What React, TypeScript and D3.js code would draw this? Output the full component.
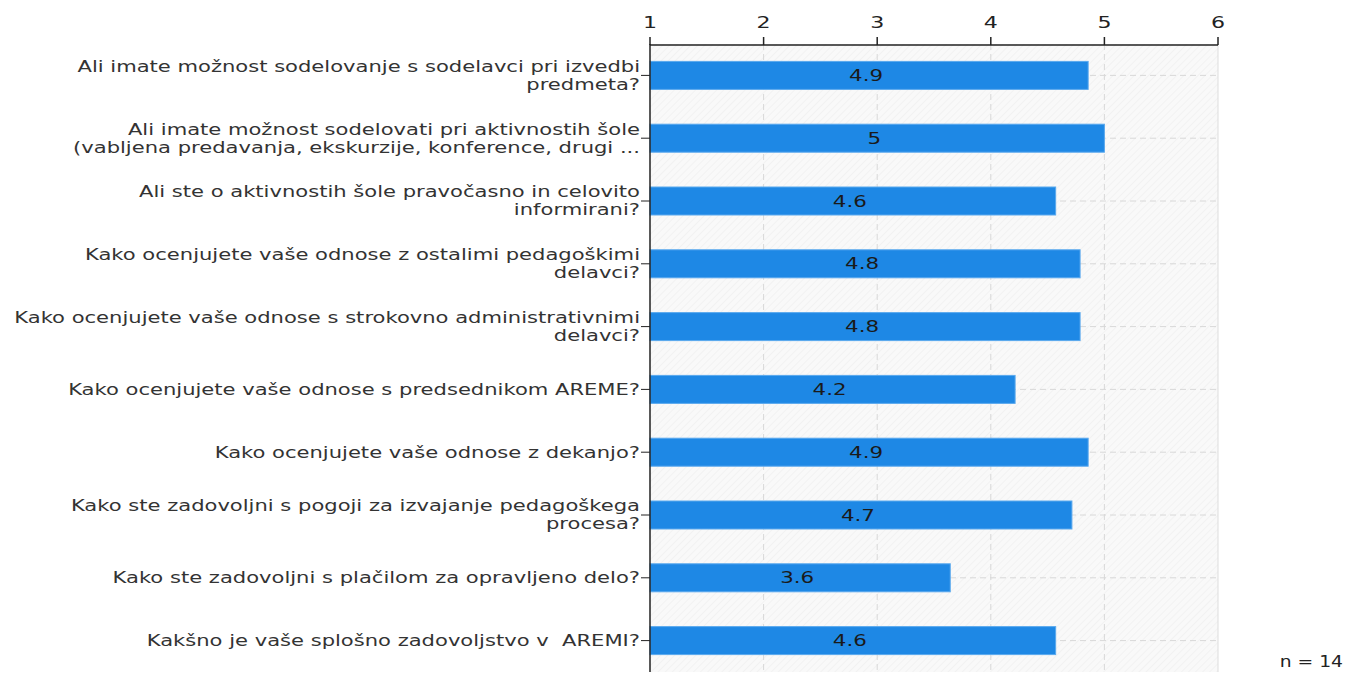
import React, { useEffect, useRef } from "react";
import * as d3 from "d3";

const questions = [
  "Ali imate možnost sodelovanje s sodelavci pri izvedbi\npredmeta?",
  "Ali imate možnost sodelovati pri aktivnostih šole\n(vabljena predavanja, ekskurzije, konference, drugi ...",
  "Ali ste o aktivnostih šole pravočasno in celovito\ninformirani?",
  "Kako ocenjujete vaše odnose z ostalimi pedagoškimi\ndelavci?",
  "Kako ocenjujete vaše odnose s strokovno administrativnimi\ndelavci?",
  "Kako ocenjujete vaše odnose s predsednikom AREME?",
  "Kako ocenjujete vaše odnose z dekanjo?",
  "Kako ste zadovoljni s pogoji za izvajanje pedagoškega\nprocesa?",
  "Kako ste zadovoljni s plačilom za opravljeno delo?",
  "Kakšno je vaše splošno zadovoljstvo v  AREMI?",
];

const averages = [4.857, 5.0, 4.571, 4.786, 4.786, 4.214, 4.857, 4.714, 3.643, 4.571];
const xTicks = [1, 2, 3, 4, 5, 6];
const sampleSize = 14;

const W = 1350;
const H = 673;
const margin = { left: 650, right: 132, top: 44, bottom: 1 };
const font = "DejaVu Sans, Verdana, sans-serif";
// the reference text is drawn wide, so glyphs get stretched horizontally
const SX = 1.38;
const SX_LABEL = 1.405;

const App = () => {
  const svgRef = useRef<SVGSVGElement>(null);

  useEffect(() => {
    const svg = d3.select(svgRef.current);
    svg.selectAll("*").remove();

    const x = d3.scaleLinear().domain([1, 6]).range([margin.left, W - margin.right]);
    const y = d3
      .scaleBand()
      .domain(questions.map((_, i) => String(i)))
      .range([margin.top, H - margin.bottom])
      .paddingInner(0)
      .paddingOuter(0);
    const cy = (i: number) => y(String(i))! + y.bandwidth() / 2;

    // hatch pattern for the plot background
    const defs = svg.append("defs");
    const pat = defs
      .append("pattern")
      .attr("id", "hatch")
      .attr("patternUnits", "userSpaceOnUse")
      .attr("width", 5)
      .attr("height", 5)
      .attr("patternTransform", "rotate(45)");
    pat.append("rect").attr("width", 5).attr("height", 5).attr("fill", "#f9f9f9");
    pat.append("line").attr("x1", 0).attr("y1", 0).attr("x2", 0).attr("y2", 5)
      .attr("stroke", "#ebebeb").attr("stroke-width", 1);

    const x0 = x(1), x1 = x(6);
    const yTop = margin.top, yBot = H - margin.bottom;

    svg.append("rect")
      .attr("x", x0).attr("y", yTop)
      .attr("width", x1 - x0).attr("height", yBot - yTop)
      .attr("fill", "url(#hatch)");

    // right border
    svg.append("line")
      .attr("x1", x1).attr("x2", x1).attr("y1", yTop).attr("y2", yBot)
      .attr("stroke", "#dddddd");

    // vertical grid
    svg.append("g")
      .selectAll("line")
      .data(xTicks.slice(1, -1))
      .enter()
      .append("line")
      .attr("x1", d => x(d)).attr("x2", d => x(d))
      .attr("y1", yTop).attr("y2", yBot)
      .attr("stroke", "#d8d8d8")
      .attr("stroke-dasharray", "6,4");

    // horizontal grid at category centers
    svg.append("g")
      .selectAll("line")
      .data(questions)
      .enter()
      .append("line")
      .attr("x1", x0).attr("x2", x1)
      .attr("y1", (_, i) => cy(i))
      .attr("y2", (_, i) => cy(i))
      .attr("stroke", "#d8d8d8")
      .attr("stroke-dasharray", "6,4");

    // bars
    const barH = 28;
    const bars = svg.append("g")
      .selectAll("g")
      .data(averages)
      .enter()
      .append("g");

    bars.append("rect")
      .attr("x", x0)
      .attr("y", (_, i) => cy(i) - barH / 2)
      .attr("width", d => x(d) - x0)
      .attr("height", barH)
      .attr("fill", "#1e88e5")
      .attr("stroke", "#5aa9ee")
      .attr("stroke-width", 1);

    bars.append("text")
      .attr("transform", (d, i) => `translate(${(x0 + x(d)) / 2 - 3},${cy(i)}) scale(${SX},1)`)
      .attr("dy", "0.36em")
      .attr("text-anchor", "middle")
      .attr("font-family", font)
      .attr("font-size", 15.5)
      .attr("fill", "#1a1a1a")
      .text(d => d3.format(".2~r")(Math.round(d * 10) / 10));

    // left axis line and ticks
    svg.append("line")
      .attr("x1", x0).attr("x2", x0).attr("y1", yTop).attr("y2", yBot)
      .attr("stroke", "#222").attr("stroke-width", 1.5);

    const labels = svg.append("g")
      .selectAll("g")
      .data(questions)
      .enter()
      .append("g")
      .attr("transform", (_, i) => `translate(0,${cy(i)})`);

    labels.append("line")
      .attr("x1", x0 - 9).attr("x2", x0)
      .attr("stroke", "#222");

    labels.append("text")
      .attr("transform", `translate(${x0 - 10},0) scale(${SX_LABEL},1)`)
      .attr("text-anchor", "end")
      .attr("font-family", font)
      .attr("font-size", 15)
      .attr("fill", "#333")
      .style("white-space", "pre")
      .each(function (d) {
        const lines = d.split("\n");
        const lh = 18;
        const t = d3.select(this);
        lines.forEach((ln, k) => {
          t.append("tspan")
            .attr("x", 0)
            .attr("y", (k - (lines.length - 1) / 2) * lh)
            .attr("dy", "0.36em")
            .text(ln);
        });
      });

    // top axis
    const axisY = 45;
    svg.append("line")
      .attr("x1", x0).attr("x2", x1).attr("y1", axisY).attr("y2", axisY)
      .attr("stroke", "#222").attr("stroke-width", 1.5);

    const tk = svg.append("g").selectAll("g").data(xTicks).enter().append("g")
      .attr("transform", d => `translate(${x(d)},${axisY})`);
    tk.append("line").attr("y1", 0).attr("y2", -8).attr("stroke", "#222").attr("stroke-width", 1.5);
    tk.append("text")
      .attr("transform", `translate(0,-17) scale(${SX},1)`)
      .attr("text-anchor", "middle")
      .attr("font-family", font)
      .attr("font-size", 16)
      .attr("fill", "#222")
      .text(d => d);

    svg.append("text")
      .attr("transform", `translate(${W - 7},667) scale(1.25,1)`)
      .attr("text-anchor", "end")
      .attr("font-family", font)
      .attr("font-size", 15)
      .attr("fill", "#222")
      .text(`n = ${sampleSize}`);
  }, []);

  return (
    <svg
      ref={svgRef}
      width={W}
      height={H}
      style={{ position: "absolute", left: 0, top: 0, background: "#fff" }}
    />
  );
};

export default App;
